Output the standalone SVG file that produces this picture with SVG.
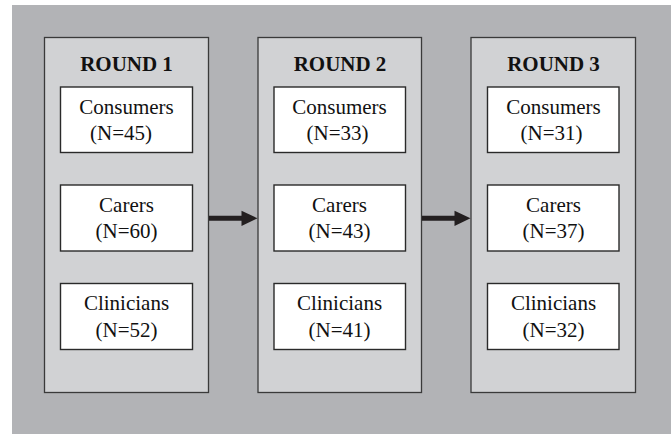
<svg xmlns="http://www.w3.org/2000/svg" width="671" height="434" viewBox="0 0 671 434">
<style>
.bg{fill:#b2b3b6}
.panel{fill:#d1d2d4;stroke:#3a3a3a;stroke-width:1.3}
.box{fill:#ffffff;stroke:#2a2a2a;stroke-width:1.4}
.title{font-family:"Liberation Serif",serif;font-weight:bold;font-size:21px;fill:#111;text-anchor:middle}
.lbl{font-family:"Liberation Serif",serif;font-size:21px;fill:#111;text-anchor:middle}
.arr{stroke:#231f20;stroke-width:5;fill:none}
.head{fill:#231f20}
</style>
<rect class="bg" x="12" y="5" width="659" height="429"/>
<g id="round1">
<rect class="panel" x="44.5" y="37.5" width="164" height="355"/>
<text class="title" x="126.5" y="71">ROUND 1</text>
<g id="r1-consumers"><rect class="box" x="60.5" y="87" width="132" height="65.5"/><text class="lbl" x="126.5" y="114">Consumers</text><text class="lbl" x="121" y="140">(N=45)</text></g>
<g id="r1-carers"><rect class="box" x="60.5" y="185" width="132" height="66"/><text class="lbl" x="126.5" y="212">Carers</text><text class="lbl" x="126.5" y="238">(N=60)</text></g>
<g id="r1-clinicians"><rect class="box" x="60.5" y="283.5" width="132" height="66"/><text class="lbl" x="126.5" y="310">Clinicians</text><text class="lbl" x="126.5" y="336.5">(N=52)</text></g>
</g>
<g id="round2">
<rect class="panel" x="258" y="37.5" width="163.5" height="355"/>
<text class="title" x="340" y="71">ROUND 2</text>
<g id="r2-consumers"><rect class="box" x="274" y="87" width="131.5" height="65.5"/><text class="lbl" x="339.5" y="114">Consumers</text><text class="lbl" x="337.5" y="140">(N=33)</text></g>
<g id="r2-carers"><rect class="box" x="274" y="185" width="131.5" height="66"/><text class="lbl" x="339.5" y="212">Carers</text><text class="lbl" x="339.5" y="238">(N=43)</text></g>
<g id="r2-clinicians"><rect class="box" x="274" y="283.5" width="131.5" height="66"/><text class="lbl" x="339.5" y="310">Clinicians</text><text class="lbl" x="339.5" y="336.5">(N=41)</text></g>
</g>
<g id="round3">
<rect class="panel" x="471" y="37.5" width="164.5" height="355"/>
<text class="title" x="553.5" y="71">ROUND 3</text>
<g id="r3-consumers"><rect class="box" x="487.5" y="87" width="131.5" height="65.5"/><text class="lbl" x="553.5" y="114">Consumers</text><text class="lbl" x="551.5" y="140">(N=31)</text></g>
<g id="r3-carers"><rect class="box" x="487.5" y="185" width="131.5" height="66"/><text class="lbl" x="553.5" y="212">Carers</text><text class="lbl" x="553.5" y="238">(N=37)</text></g>
<g id="r3-clinicians"><rect class="box" x="487.5" y="283.5" width="131.5" height="66"/><text class="lbl" x="553.5" y="310">Clinicians</text><text class="lbl" x="553.5" y="336.5">(N=32)</text></g>
</g>
<g id="connectors">
<line class="arr" x1="209" y1="218.3" x2="243" y2="218.3"/>
<polygon class="head" points="241.5,210.7 257.5,218.3 241.5,225.9"/>
<line class="arr" x1="422" y1="218.3" x2="456" y2="218.3"/>
<polygon class="head" points="454.5,210.7 470.5,218.3 454.5,225.9"/>
</g>
</svg>
